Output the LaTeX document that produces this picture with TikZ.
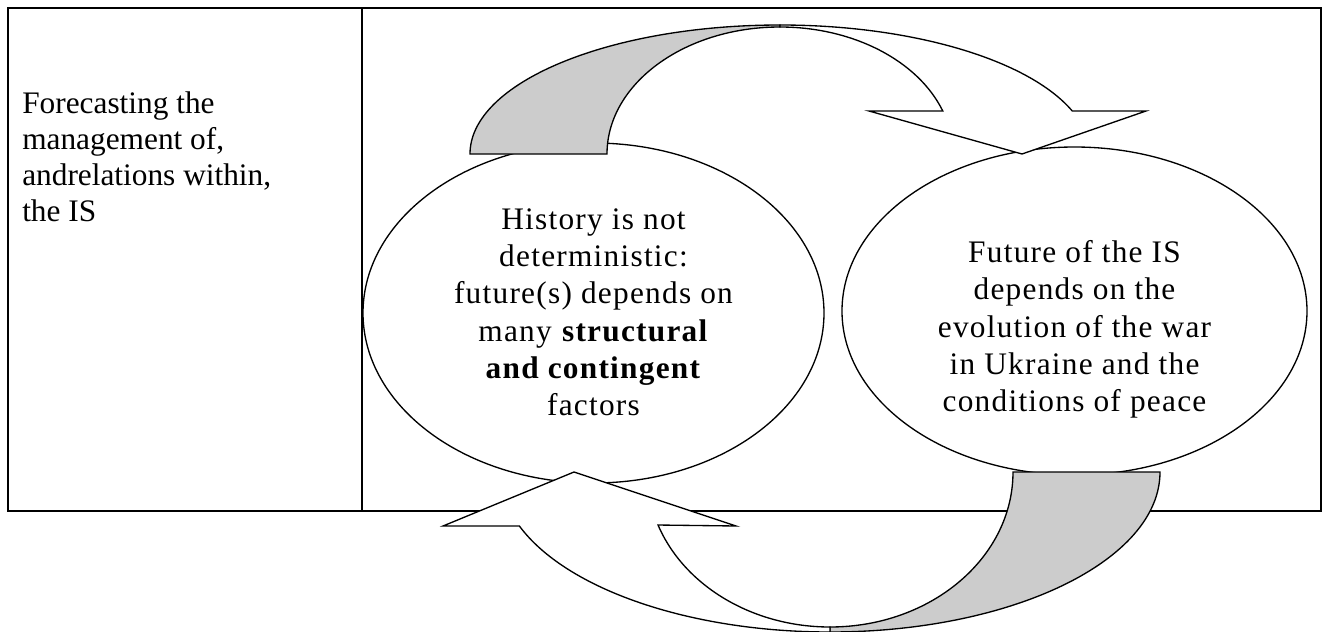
\documentclass[tikz,border=0pt]{standalone}
\usepackage{fontspec}
\setmainfont{Liberation Serif}
\newfontfamily\spacedfont{Liberation Serif}[LetterSpace=4]
\usetikzlibrary{shapes.geometric,calc}
\definecolor{backshade}{RGB}{204,204,204}

\begin{document}
\begin{tikzpicture}[x=0.75pt,y=0.75pt,yscale=-1,xscale=1,
  bubble/.style={draw, ellipse, line width=1pt, inner sep=0pt},
  backface/.style={draw, fill=backshade, line width=1pt},
  frontface/.style={draw, fill=white, line width=1pt},
  celltext/.style={anchor=north west, inner sep=0pt, align=left, font=\fontsize{23.5}{27}\selectfont},
  bubbletext/.style={anchor=north, inner sep=0pt, align=center, font=\spacedfont\fontsize{23.5}{28}\selectfont}]
\useasboundingbox (0,0) rectangle (1322,632);

%Table frame
\draw[line width=1.5pt] (8,8) rectangle (1320.5,511);
\draw[line width=1.5pt] (362,8) -- (362,511);

%Shape: Ellipse
\node[bubble, minimum width=345.75pt, minimum height=255pt] (hist) at (593.5,313) {};
%Shape: Ellipse
\node[bubble, minimum width=348.75pt, minimum height=246pt] (future) at (1074.5,311) {};

%Curved Arrow, top: back part
\draw[backface] (470,154) arc[start angle=180, end angle=270, x radius=310, y radius=129] -- (780,27) arc[start angle=270, end angle=180, x radius=173, y radius=127] -- cycle;
%Curved Arrow, top: front part
\draw[frontface] (780,27) -- (780,25) arc[start angle=270, end angle=340.5, x radius=310, y radius=129] -- (1146,111) -- (1022,154) -- (869,111) -- ($(780,154)+(340.2:173 and 127)$) arc[start angle=340.2, end angle=270, x radius=173, y radius=127] -- cycle;

%Curved Arrow, bottom: back part
\draw[backface] (1160,472) arc[start angle=0, end angle=90, x radius=330, y radius=160] -- (830,627) arc[start angle=90, end angle=0, x radius=183, y radius=155] -- cycle;
%Curved Arrow, bottom: front part
\draw[frontface] (830,627) -- (830,632) arc[start angle=90, end angle=160.3, x radius=330, y radius=160] -- (443,526) -- (574,472) -- (736,526) -- ($(830,472)+(160:183 and 155)$) arc[start angle=160, end angle=90, x radius=183, y radius=155] -- cycle;

% Text Node
\node[celltext] (topic) at (22,91) {Forecasting the\\management of,\\andrelations within,\\the IS};
% Text Node
\node[bubbletext] (histtext) at (593.5,208) {History is not\\deterministic:\\future(s) depends on\\many \textbf{structural}\\\textbf{and contingent}\\factors};
% Text Node
\node[bubbletext] (futuretext) at (1074.5,240) {Future of the IS\\depends on the\\evolution of the war\\in Ukraine and the\\conditions of peace};

\end{tikzpicture}
\end{document}
